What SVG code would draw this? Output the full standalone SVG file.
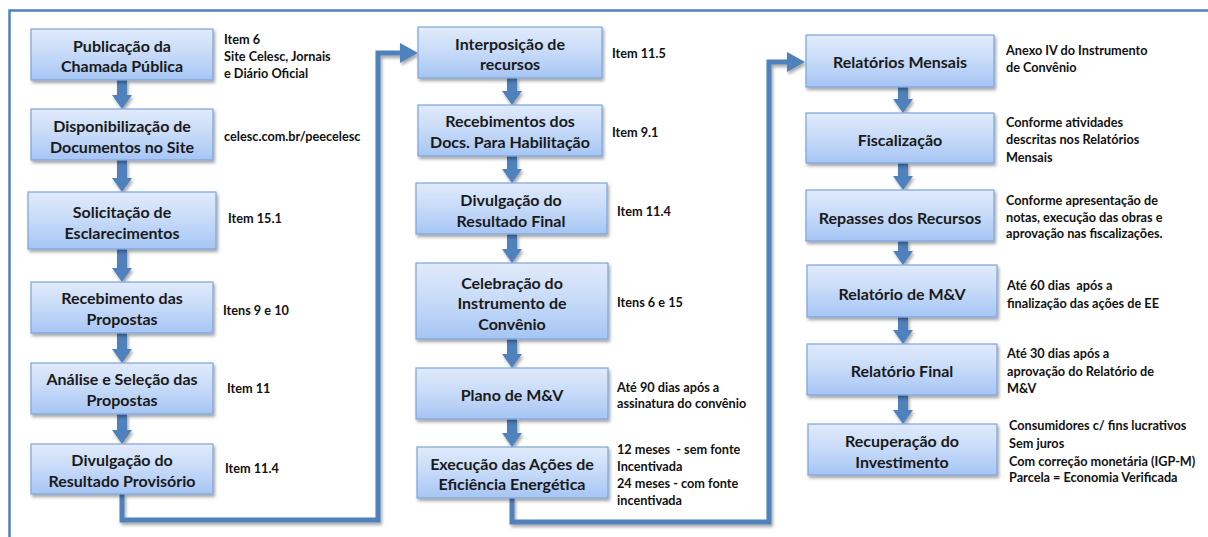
<svg xmlns="http://www.w3.org/2000/svg" width="1208" height="537" viewBox="0 0 1208 537">
<defs>
<linearGradient id="g" x1="0" y1="0" x2="0" y2="1">
<stop offset="0" stop-color="#e1ebfb"/>
<stop offset="0.5" stop-color="#c6daf8"/>
<stop offset="1" stop-color="#a6c5f4"/>
</linearGradient>
<filter id="sh" x="-10%" y="-10%" width="130%" height="140%">
<feDropShadow dx="1.5" dy="2.5" stdDeviation="1.5" flood-color="#000" flood-opacity="0.35"/>
</filter>
<marker id="ah" viewBox="0 0 18 20" markerWidth="18" markerHeight="20" refX="3" refY="10" orient="auto" markerUnits="userSpaceOnUse">
<path d="M0,0 L18,10 L0,20 Z" fill="#4f81bd"/>
</marker>
</defs>
<style>
.box{fill:url(#g);stroke:#7ca3da;stroke-width:1.2;filter:url(#sh)}
.t{font-family:Lato,"Liberation Sans",sans-serif;font-weight:bold;font-size:16px;fill:#1a1a1a;text-anchor:middle;dominant-baseline:central}
.a{font-family:Lato,"Liberation Sans",sans-serif;font-weight:bold;font-size:12.7px;fill:#111;dominant-baseline:central}
.loop{fill:none;stroke:#4f81bd;stroke-width:5;stroke-linejoin:miter;filter:url(#sh)}
.arr{fill:#4f81bd;filter:url(#sh)}
</style>
<rect x="0" y="0" width="1208" height="537" fill="#ffffff"/>
<rect x="9.5" y="10.5" width="1210" height="540" fill="none" stroke="#4f81bd" stroke-width="2.5"/>

<g id="connectors">
<path class="loop" d="M122,494 L122,520 L378,520 L378,53 L403,53" marker-end="url(#ah)"/>
<path class="loop" d="M512,498 L512,522 L769,522 L769,62 L790,62" marker-end="url(#ah)"/>
<path class="arr" d="M117,80 L127,80 L127,95 L132,95 L122,109 L112,95 L117,95 Z"/>
<path class="arr" d="M117,160 L127,160 L127,178 L132,178 L122,192 L112,178 L117,178 Z"/>
<path class="arr" d="M117,249 L127,249 L127,268 L132,268 L122,282 L112,268 L117,268 Z"/>
<path class="arr" d="M117,333 L127,333 L127,349 L132,349 L122,363 L112,349 L117,349 Z"/>
<path class="arr" d="M117,414 L127,414 L127,430 L132,430 L122,444 L112,430 L117,430 Z"/>
<path class="arr" d="M507,78 L517,78 L517,91 L522,91 L512,105 L502,91 L507,91 Z"/>
<path class="arr" d="M507,156 L517,156 L517,169 L522,169 L512,183 L502,169 L507,169 Z"/>
<path class="arr" d="M507,234 L517,234 L517,249 L522,249 L512,263 L502,249 L507,249 Z"/>
<path class="arr" d="M507,339 L517,339 L517,354 L522,354 L512,368 L502,354 L507,354 Z"/>
<path class="arr" d="M507,419 L517,419 L517,433 L522,433 L512,447 L502,433 L507,433 Z"/>
<path class="arr" d="M898,87 L908,87 L908,99 L913,99 L903,113 L893,99 L898,99 Z"/>
<path class="arr" d="M898,163 L908,163 L908,176 L913,176 L903,190 L893,176 L898,176 Z"/>
<path class="arr" d="M898,241 L908,241 L908,251 L913,251 L903,265 L893,251 L898,251 Z"/>
<path class="arr" d="M898,317 L908,317 L908,330 L913,330 L903,344 L893,330 L898,330 Z"/>
<path class="arr" d="M898,395 L908,395 L908,410 L913,410 L903,424 L893,410 L898,410 Z"/>
</g>

<g id="n1"><rect class="box" x="31" y="29" width="182" height="51"/><text class="t" x="122" y="45">Publicação da</text><text class="t" x="122" y="65">Chamada Pública</text></g>
<g id="n2"><rect class="box" x="31" y="109" width="182" height="51"/><text class="t" x="122" y="125">Disponibilização de</text><text class="t" x="122" y="146">Documentos no Site</text></g>
<g id="n3"><rect class="box" x="28" y="192" width="188" height="57"/><text class="t" x="122" y="211">Solicitação de</text><text class="t" x="122" y="232">Esclarecimentos</text></g>
<g id="n4"><rect class="box" x="31" y="282" width="182" height="51"/><text class="t" x="122" y="297">Recebimento das</text><text class="t" x="122" y="318">Propostas</text></g>
<g id="n5"><rect class="box" x="31" y="363" width="182" height="51"/><text class="t" x="122" y="378">Análise e Seleção das</text><text class="t" x="122" y="399">Propostas</text></g>
<g id="n6"><rect class="box" x="31" y="444" width="182" height="50"/><text class="t" x="122" y="459">Divulgação do</text><text class="t" x="122" y="480">Resultado Provisório</text></g>

<g id="n7"><rect class="box" x="418" y="27" width="184" height="51"/><text class="t" x="510" y="43">Interposição de</text><text class="t" x="510" y="63">recursos</text></g>
<g id="n8"><rect class="box" x="418" y="105" width="184" height="51"/><text class="t" x="510" y="120">Recebimentos dos</text><text class="t" x="510" y="141">Docs. Para Habilitação</text></g>
<g id="n9"><rect class="box" x="416" y="183" width="191" height="51"/><text class="t" x="511" y="199">Divulgação do</text><text class="t" x="511" y="220">Resultado Final</text></g>
<g id="n10"><rect class="box" x="416" y="263" width="192" height="76"/><text class="t" x="512" y="282">Celebração do</text><text class="t" x="512" y="302">Instrumento de</text><text class="t" x="512" y="323">Convênio</text></g>
<g id="n11"><rect class="box" x="416" y="368" width="192" height="51"/><text class="t" x="512" y="394">Plano de M&amp;V</text></g>
<g id="n12"><rect class="box" x="417" y="447" width="191" height="51"/><text class="t" x="512" y="463">Execução das Ações de</text><text class="t" x="512" y="483">Eficiência Energética</text></g>

<g id="n13"><rect class="box" x="806" y="35" width="188" height="52"/><text class="t" x="900" y="61">Relatórios Mensais</text></g>
<g id="n14"><rect class="box" x="806" y="113" width="188" height="50"/><text class="t" x="900" y="139">Fiscalização</text></g>
<g id="n15"><rect class="box" x="806" y="190" width="188" height="51"/><text class="t" x="900" y="217">Repasses dos Recursos</text></g>
<g id="n16"><rect class="box" x="807" y="265" width="190" height="52"/><text class="t" x="902" y="293">Relatório de M&amp;V</text></g>
<g id="n17"><rect class="box" x="807" y="344" width="190" height="51"/><text class="t" x="902" y="370">Relatório Final</text></g>
<g id="n18"><rect class="box" x="808" y="424" width="189" height="51"/><text class="t" x="902" y="440">Recuperação do</text><text class="t" x="902" y="461">Investimento</text></g>

<g id="labels">
<text class="a" x="224" y="39">Item 6</text>
<text class="a" x="224" y="56">Site Celesc, Jornais</text>
<text class="a" x="224" y="73">e Diário Oficial</text>
<text class="a" x="224" y="136">celesc.com.br/peecelesc</text>
<text class="a" x="228" y="218">Item 15.1</text>
<text class="a" x="223" y="310">Itens 9 e 10</text>
<text class="a" x="227" y="388">Item 11</text>
<text class="a" x="225" y="468">Item 11.4</text>

<text class="a" x="612" y="53">Item 11.5</text>
<text class="a" x="612" y="132">Item 9.1</text>
<text class="a" x="617" y="211">Item 11.4</text>
<text class="a" x="617" y="302">Itens 6 e 15</text>
<text class="a" x="617" y="387">Até 90 dias após a</text>
<text class="a" x="617" y="403">assinatura do convênio</text>
<text class="a" x="617" y="449" xml:space="preserve">12 meses  - sem fonte</text>
<text class="a" x="617" y="466">Incentivada</text>
<text class="a" x="617" y="483">24 meses - com fonte</text>
<text class="a" x="617" y="500">incentivada</text>

<text class="a" x="1006" y="50">Anexo IV do Instrumento</text>
<text class="a" x="1006" y="67">de Convênio</text>
<text class="a" x="1006" y="122">Conforme atividades</text>
<text class="a" x="1006" y="139">descritas nos Relatórios</text>
<text class="a" x="1006" y="157">Mensais</text>
<text class="a" x="1006" y="200">Conforme apresentação de</text>
<text class="a" x="1006" y="217">notas, execução das obras e</text>
<text class="a" x="1006" y="233">aprovação nas fiscalizações.</text>
<text class="a" x="1007" y="285" xml:space="preserve">Até 60 dias  após a</text>
<text class="a" x="1007" y="303">finalização das ações de EE</text>
<text class="a" x="1007" y="353">Até 30 dias após a</text>
<text class="a" x="1007" y="371">aprovação do Relatório de</text>
<text class="a" x="1007" y="388">M&amp;V</text>
<text class="a" x="1009" y="425">Consumidores c/ fins lucrativos</text>
<text class="a" x="1009" y="443">Sem juros</text>
<text class="a" x="1009" y="461">Com correção monetária (IGP-M)</text>
<text class="a" x="1009" y="477">Parcela = Economia Verificada</text>
</g>
</svg>
